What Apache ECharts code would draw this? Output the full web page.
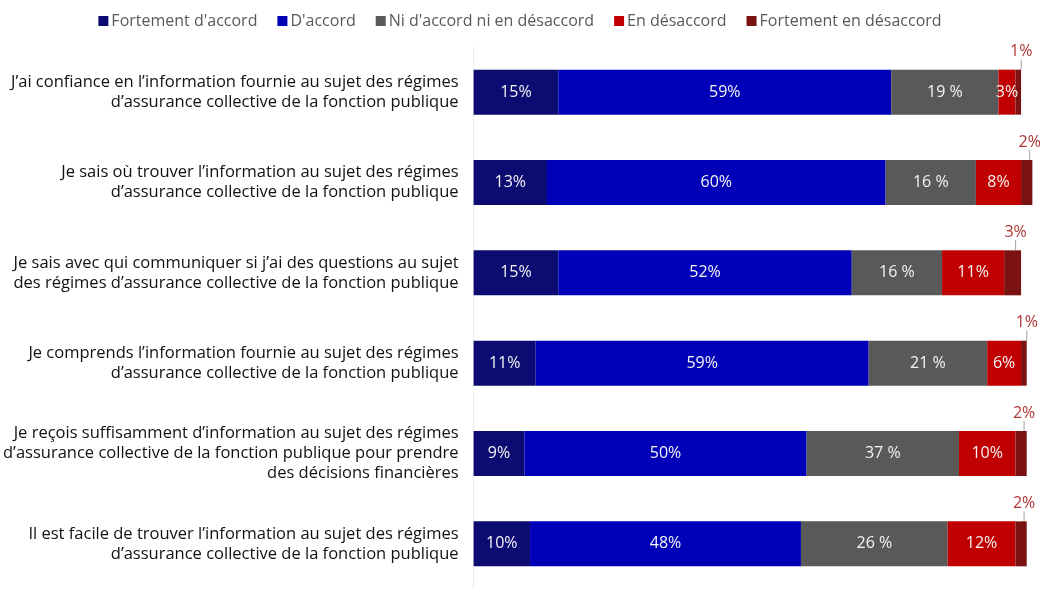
<!DOCTYPE html>
<html>
<head>
<meta charset="utf-8">
<script src="https://cdn.jsdelivr.net/npm/echarts@6/dist/echarts.min.js"></script>
<style>
html, body { margin: 0; padding: 0; background: #fff; }
#main { width: 1040px; height: 589px; }
</style>
</head>
<body>
<div id="main"></div>
<script>
var categories = [
    'J’ai confiance en l’information fournie au sujet des régimes\nd’assurance collective de la fonction publique',
    'Je sais où trouver l’information au sujet des régimes\nd’assurance collective de la fonction publique',
    'Je sais avec qui communiquer si j’ai des questions au sujet\ndes régimes d’assurance collective de la fonction publique',
    'Je comprends l’information fournie au sujet des régimes\nd’assurance collective de la fonction publique',
    'Je reçois suffisamment d’information au sujet des régimes\nd’assurance collective de la fonction publique pour prendre\ndes décisions financières',
    'Il est facile de trouver l’information au sujet des régimes\nd’assurance collective de la fonction publique'
];
var fortementAccord = [15, 13, 15, 11, 9, 10];
var accord = [59, 60, 52, 59, 50, 48];
// bar 5 is drawn about 27 wide although the printed label says 37 %
var neutre = [19, 16, 16, 21, 27, 26];
var neutreLabels = ['19 %', '16 %', '16 %', '21 %', '37 %', '26 %'];
var desaccord = [3, 8, 11, 6, 10, 12];
var fortementDesaccord = [1, 2, 3, 1, 2, 2];

var fontFam = '"Open Sans", Arial, sans-serif';

var myChart = echarts.init(document.getElementById('main'));

function inside(color) {
    return {
        show: true,
        position: 'inside',
        color: color || '#f4f4f4',
        fontSize: 16,
        fontFamily: fontFam,
        formatter: '{c}%'
    };
}

option = {
    animation: false,
    legend: {
        top: 8,
        left: 'center',
        itemWidth: 10,
        itemHeight: 10,
        itemGap: 20,
        icon: 'rect',
        textStyle: {
            color: '#595959',
            fontSize: 16,
            fontFamily: fontFam,
            padding: [0, 0, 0, -2]
        }
    },
    grid: {
        left: 472,
        right: 2,
        top: 47,
        bottom: -4,
        containLabel: false
    },
    xAxis: {
        type: 'value',
        min: 0,
        max: 100,
        show: false
    },
    yAxis: {
        type: 'category',
        inverse: true,
        data: categories,
        axisTick: { show: false },
        axisLine: { show: true, lineStyle: { color: '#ececec' } },
        axisLabel: {
            margin: 15,
            color: '#111',
            fontSize: 16.5,
            lineHeight: 20,
            fontFamily: fontFam,
            align: 'right'
        }
    },
    series: [{
        name: 'Fortement d\'accord',
        type: 'bar',
        stack: 'total',
        barWidth: 45,
        itemStyle: { color: '#0b0b72' },
        label: inside(),
        data: fortementAccord
    }, {
        name: 'D\'accord',
        type: 'bar',
        stack: 'total',
        itemStyle: { color: '#0000b8' },
        label: inside(),
        data: accord
    }, {
        name: 'Ni d\'accord ni en désaccord',
        type: 'bar',
        stack: 'total',
        itemStyle: { color: '#595959' },
        label: {
            show: true,
            position: 'inside',
            color: '#f4f4f4',
            fontSize: 16,
            fontFamily: fontFam,
            formatter: function (p) {
                return neutreLabels[p.dataIndex];
            }
        },
        data: neutre
    }, {
        name: 'En désaccord',
        type: 'bar',
        stack: 'total',
        itemStyle: { color: '#c00000' },
        label: inside(),
        data: desaccord
    }, {
        name: 'Fortement en désaccord',
        type: 'bar',
        stack: 'total',
        itemStyle: { color: '#7a1212' },
        label: {
            show: true,
            position: 'top',
            distance: 4,
            color: '#b03434',
            fontSize: 16,
            fontFamily: fontFam,
            formatter: '{c}%'
        },
        labelLayout: {
            dx: 3,
            dy: -6
        },
        labelLine: {
            show: true,
            lineStyle: { color: '#a0a0a0', width: 1 }
        },
        data: fortementDesaccord
    }]
};

myChart.setOption(option);
</script>
</body>
</html>
